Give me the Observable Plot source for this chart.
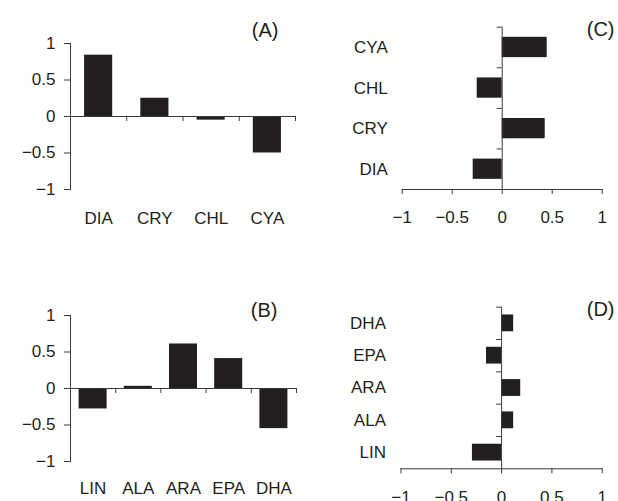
<!DOCTYPE html>
<html>
<head>
<meta charset="utf-8">
<script src="https://cdn.jsdelivr.net/npm/d3@7"></script>
<script src="https://cdn.jsdelivr.net/npm/@observablehq/plot@0.6"></script>
<style>
  html, body { margin: 0; padding: 0; background: #fff; }
  #chart { position: relative; width: 618px; height: 501px; overflow: hidden; background: #fff; }
  #chart svg { position: absolute; overflow: visible; }
</style>
</head>
<body>
<div id="chart"></div>
<script>
// Pigment groups (panels A and C)
const pigments = ["DIA", "CRY", "CHL", "CYA"];
const valuesA = [0.84, 0.25, -0.05, -0.50];
const valuesC = [-0.29, 0.43, -0.25, 0.45];

// Fatty acids (panels B and D)
const fattyAcids = ["LIN", "ALA", "ARA", "EPA", "DHA"];
const valuesB = [-0.28, 0.03, 0.61, 0.41, -0.55];
const valuesD = [-0.29, 0.12, 0.19, -0.15, 0.12];

const valueTicks = [-1, -0.5, 0, 0.5, 1];
const panelLabels = ["(A)", "(B)", "(C)", "(D)"];

const INK = "#231f20";
const LINE = "#3a3a3a";
const fmt = d => String(d).replace("-", "\u2212");
const style = {fontFamily: "'Liberation Sans', Arial, Helvetica, sans-serif", fontSize: "17px", color: INK, background: "transparent"};

function vertical(cats, vals, label, o) {
  const data = cats.map((c, i) => ({cat: c, value: vals[i]}));
  const step = (o.width - o.marginLeft - o.marginRight) / cats.length;
  return Plot.plot({
    width: o.width, height: o.height,
    marginLeft: o.marginLeft, marginRight: o.marginRight,
    marginTop: o.marginTop, marginBottom: o.marginBottom,
    style,
    x: {type: "band", domain: cats, paddingInner: o.pad, paddingOuter: o.pad / 2, round: false, label: null},
    y: {domain: [-1, 1], nice: false, label: null},
    marks: [
      Plot.barY(data, {x: "cat", y: "value", fill: INK}),
      Plot.frame({anchor: "left", stroke: LINE}),
      Plot.ruleY([0], {stroke: LINE}),
      Plot.ruleX(cats, {x: d => d, y1: 0, y2: 0, insetTop: 0, insetBottom: -5, dx: step / 2, stroke: LINE}),
      Plot.axisY({ticks: valueTicks, tickFormat: fmt, tickSize: 6, tickPadding: 9, stroke: LINE, label: null}),
      Plot.axisX({tickSize: 0, tickPadding: o.xPad, label: null}),
      Plot.text([label], {text: d => d, frameAnchor: "top-right", textAnchor: "end", lineAnchor: "middle", dx: o.ldx, dy: o.ldy, fontSize: 20, fill: INK})
    ]
  });
}

function horizontal(cats, vals, label, o) {
  const data = cats.map((c, i) => ({cat: c, value: vals[i]}));
  const step = (o.height - o.marginTop - o.marginBottom) / cats.length;
  return Plot.plot({
    width: o.width, height: o.height,
    marginLeft: o.marginLeft, marginRight: o.marginRight,
    marginTop: o.marginTop, marginBottom: o.marginBottom,
    style,
    y: {type: "band", domain: cats.slice().reverse(), paddingInner: o.pad, paddingOuter: o.pad / 2, round: false, label: null},
    x: {domain: [-1, 1], nice: false, label: null},
    marks: [
      Plot.barX(data, {y: "cat", x: "value", fill: INK}),
      Plot.frame({anchor: "bottom", stroke: LINE}),
      Plot.ruleX([0], {stroke: LINE}),
      Plot.ruleY(cats, {y: d => d, x1: 0, x2: 0, insetLeft: -5, insetRight: 0, dy: -step / 2, stroke: LINE}),
      Plot.axisX({ticks: valueTicks, tickFormat: fmt, tickSize: 5, tickPadding: o.xPad, stroke: LINE, label: null}),
      Plot.axisY({tickSize: 0, tickPadding: o.yPad, label: null}),
      Plot.text([label], {text: d => d, frameAnchor: "top-right", textAnchor: "end", lineAnchor: "middle", dx: o.ldx, dy: o.ldy, fontSize: 20, fill: INK})
    ]
  });
}

const chart = document.getElementById("chart");
function place(svg, left, top) {
  svg.style.left = left + "px";
  svg.style.top = top + "px";
  chart.appendChild(svg);
}

place(vertical(pigments, valuesA, panelLabels[0], {
  width: 309, height: 250, marginLeft: 70, marginRight: 14, marginTop: 43, marginBottom: 61,
  pad: 0.5, xPad: 22, ldx: -17, ldy: -13
}), 0, 0);

place(vertical(fattyAcids, valuesB, panelLabels[1], {
  width: 309, height: 251, marginLeft: 70, marginRight: 13, marginTop: 65, marginBottom: 40,
  pad: 0.38, xPad: 20, ldx: -19, ldy: -5
}), 0, 250);

place(horizontal(pigments, valuesC, panelLabels[2], {
  width: 309, height: 250, marginLeft: 92.7, marginRight: 16.3, marginTop: 26.7, marginBottom: 61,
  pad: 0.5, xPad: 16.5, yPad: 14.4, ldx: 12.3, ldy: 2.3
}), 309, 0);

place(horizontal(fattyAcids, valuesD, panelLabels[3], {
  width: 309, height: 251, marginLeft: 91.5, marginRight: 16.3, marginTop: 56.7, marginBottom: 32.7,
  pad: 0.48, xPad: 17, yPad: 15, ldx: 12.3, ldy: 2.3
}), 309, 250);
</script>
</body>
</html>
